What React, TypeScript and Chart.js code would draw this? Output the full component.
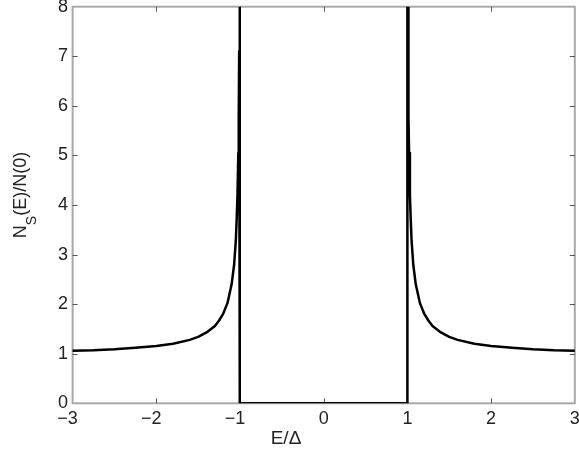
import React, { useEffect, useRef } from "react";
import { Chart, registerables } from "chart.js";

Chart.register(...registerables);

// Energy E/Δ (x) and normalized density of states N_S(E)/N(0) (y)
const energy = [
  -3, -2.75, -2.5, -2.25, -2, -1.8, -1.6, -1.5, -1.4, -1.3, -1.25, -1.2, -1.15, -1.1, -1.07,
  -1.05, -1.04, -1.03, -1.02, -1.015, -1.01, -1.008, -1, -1,
  1, 1, 1.008, 1.01, 1.015, 1.02, 1.03, 1.04, 1.05, 1.07, 1.1, 1.15, 1.2, 1.25,
  1.3, 1.4, 1.5, 1.6, 1.8, 2, 2.25, 2.5, 2.75, 3,
];
const dos = [
  1.06, 1.07, 1.09, 1.12, 1.155, 1.2, 1.28, 1.34, 1.43, 1.56, 1.67, 1.81, 2.02, 2.4, 2.8,
  3.28, 3.7, 4.2, 5.05, 5.8, 7.1, 8, 8, 0,
  0, 8, 8, 7.1, 5.8, 5.05, 4.2, 3.7, 3.28, 2.8, 2.4, 2.02, 1.81, 1.67,
  1.56, 1.43, 1.34, 1.28, 1.2, 1.155, 1.12, 1.09, 1.07, 1.06,
];
const xTicks = [-3, -2, -1, 0, 1, 2, 3];
const yTicks = [0, 1, 2, 3, 4, 5, 6, 7, 8];
const xTitle = "E/Δ";
const yTitleMain = "N";
const yTitleSub = "S";
const yTitleRest = "(E)/N(0)";

const FONT = "'Liberation Sans', Arial, Helvetica, sans-serif";

const framePlugin = {
  id: "frame",
  beforeDatasetsDraw(chart: any) {
    const { ctx, chartArea } = chart;
    const { left, right, top, bottom } = chartArea;
    const xs = chart.scales.x;
    const ys = chart.scales.y;
    ctx.save();
    ctx.strokeStyle = "#a8a8a8";
    ctx.lineWidth = 2;
    ctx.strokeRect(left, top, right - left, bottom - top);
    ctx.strokeStyle = "#555";
    ctx.lineWidth = 1;
    const tl = 5;
    ctx.beginPath();
    xTicks.slice(1, -1).forEach((v) => {
      const px = Math.round(xs.getPixelForValue(v)) + 0.5;
      ctx.moveTo(px, bottom);
      ctx.lineTo(px, bottom - tl);
      ctx.moveTo(px, top);
      ctx.lineTo(px, top + tl);
    });
    yTicks.slice(1, -1).forEach((v) => {
      const py = Math.round(ys.getPixelForValue(v)) + 0.5;
      ctx.moveTo(left, py);
      ctx.lineTo(left + tl, py);
      ctx.moveTo(right, py);
      ctx.lineTo(right - tl, py);
    });
    ctx.stroke();
    ctx.restore();
  },
  afterDraw(chart: any) {
    const { ctx } = chart;
    ctx.save();
    ctx.fillStyle = "#222";
    // x title
    ctx.font = `19px ${FONT}`;
    ctx.textAlign = "center";
    ctx.textBaseline = "alphabetic";
    ctx.fillText(xTitle, 286, 444);
    // y title with subscript
    ctx.translate(26, 195);
    ctx.rotate(-Math.PI / 2);
    const bigFont = `18px ${FONT}`;
    const subFont = `14px ${FONT}`;
    ctx.font = bigFont;
    const wN = ctx.measureText(yTitleMain).width;
    const wR = ctx.measureText(yTitleRest).width;
    ctx.font = subFont;
    const wS = ctx.measureText(yTitleSub).width;
    const total = wN + wS + wR;
    let x = -total / 2;
    ctx.textAlign = "left";
    ctx.font = bigFont;
    ctx.fillText(yTitleMain, x, 0);
    x += wN;
    ctx.font = subFont;
    ctx.fillText(yTitleSub, x, 10);
    x += wS;
    ctx.font = bigFont;
    ctx.fillText(yTitleRest, x, 0);
    ctx.restore();
  },
};

export default function App() {
  const ref = useRef<HTMLCanvasElement | null>(null);
  useEffect(() => {
    if (!ref.current) return;
    const points = energy.map((e, i) => ({ x: e, y: dos[i] }));
    const chart = new Chart(ref.current, {
      type: "line",
      data: {
        datasets: [
          {
            data: points,
            borderColor: "#000",
            borderWidth: 2.5,
            borderJoinStyle: "round",
            borderCapStyle: "round",
            pointRadius: 0,
            tension: 0,
            fill: false,
          },
        ],
      },
      options: {
        responsive: false,
        animation: false,
        events: [],
        layout: { padding: { top: 6.7, right: 4.2, left: 0, bottom: 0 } },
        plugins: { legend: { display: false }, tooltip: { enabled: false } },
        scales: {
          x: {
            type: "linear",
            min: -3,
            max: 3,
            border: { display: false },
            grid: { display: false, drawTicks: false },
            afterBuildTicks: (s: any) => {
              s.ticks = xTicks.map((v) => ({ value: v }));
            },
            afterFit: (s: any) => {
              s.height = 46.7;
              s.paddingLeft = 0;
              s.paddingRight = 0;
            },
            ticks: {
              padding: 5,
              maxRotation: 0,
              autoSkip: false,
              color: "#222",
              font: { family: FONT, size: 18 },
              callback: (v: any) => (Number(v) < 0 ? "\u2212" + Math.abs(Number(v)) + "  " : String(v)),
            },
          },
          y: {
            type: "linear",
            min: 0,
            max: 8,
            border: { display: false },
            grid: { display: false, drawTicks: false },
            afterBuildTicks: (s: any) => {
              s.ticks = yTicks.map((v) => ({ value: v }));
            },
            afterFit: (s: any) => {
              s.width = 72.6;
              s.paddingTop = 0;
              s.paddingBottom = 0;
            },
            ticks: {
              padding: 4.5,
              autoSkip: false,
              color: "#222",
              font: { family: FONT, size: 18 },
            },
          },
        },
      },
      plugins: [framePlugin],
    });
    return () => chart.destroy();
  }, []);
  return (
    <div style={{ position: "absolute", left: 0, top: 0, width: 579, height: 450, background: "#fff" }}>
      <canvas ref={ref} width={579} height={450} style={{ display: "block" }} />
    </div>
  );
}
